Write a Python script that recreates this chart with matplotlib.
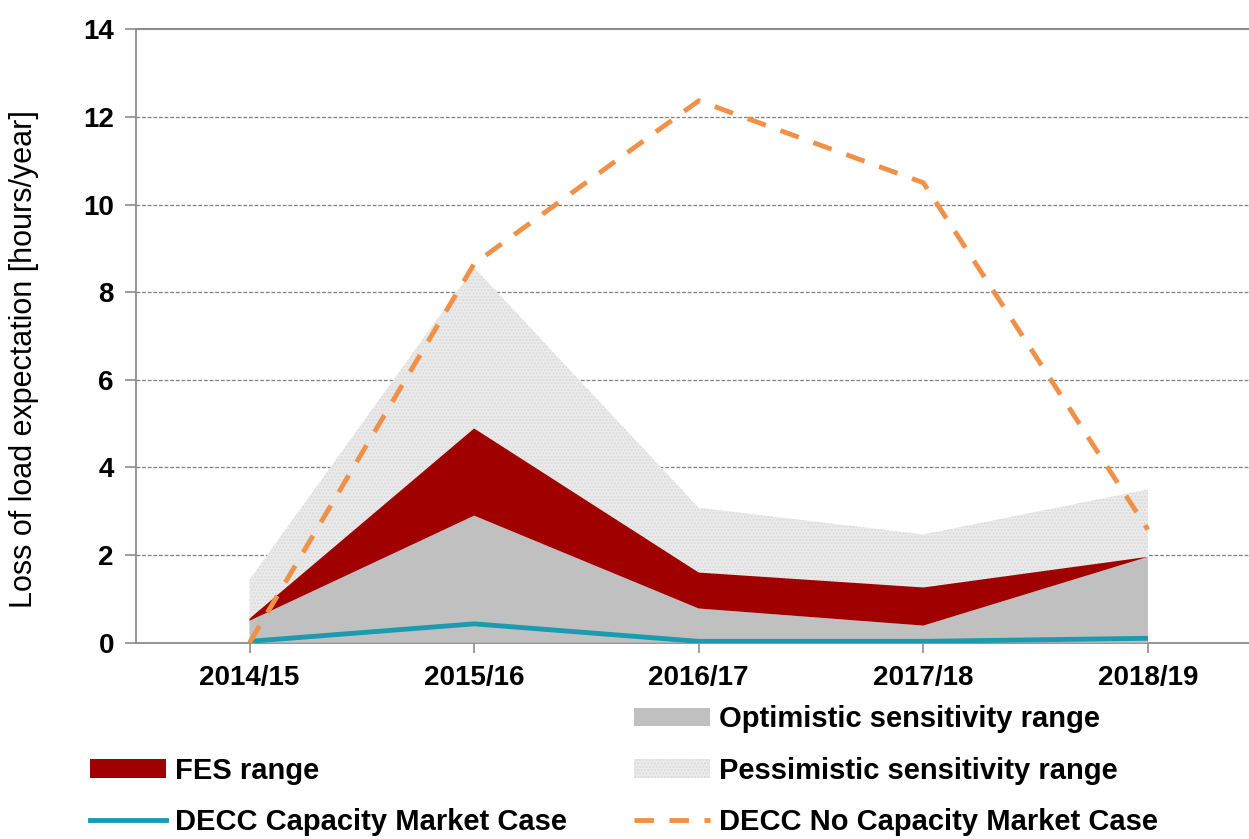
import numpy as np
import matplotlib.pyplot as plt
from matplotlib.patches import Patch
from matplotlib.lines import Line2D

years = ["2014/15", "2015/16", "2016/17", "2017/18", "2018/19"]
pessimistic_top = [1.44, 8.56, 3.08, 2.47, 3.5]
fes_top = [0.55, 4.89, 1.6, 1.26, 1.96]
fes_bottom = [0.5, 2.9, 0.78, 0.39, 1.96]
decc_cm = [0.03, 0.43, 0.03, 0.03, 0.1]
decc_no_cm = [0.0, 8.65, 12.37, 10.5, 2.58]

plt.rcParams['font.family'] = ['Liberation Sans', 'DejaVu Sans']

fig = plt.figure(figsize=(12.49, 8.39), dpi=100)
ax = fig.add_axes([0.109, 0.234, 0.891, 0.731])

x = np.arange(len(years))
zeros = np.zeros(len(years))

# background ranges
ax.fill_between(x, zeros, pessimistic_top, facecolor='#ebebeb', edgecolor='#d9d9d9',
                hatch='.....', linewidth=0, zorder=2)
ax.fill_between(x, zeros, fes_bottom, facecolor='#c0c0c0', linewidth=0, zorder=3)
ax.fill_between(x, fes_bottom, fes_top, facecolor='#a00000', linewidth=0, zorder=3)

ax.plot(x, decc_cm, color='#1b9bb0', linewidth=3.5, zorder=5, solid_capstyle='butt')
ax.plot(x, decc_no_cm, color='#f0914a', linewidth=3.5, dashes=(4, 3.2), zorder=6)

ax.set_xlim(-0.505, 4.45)
ax.set_ylim(0, 14)
ax.set_yticks(np.arange(0, 13, 2))
ax.set_xticks(x)
ax.set_xticklabels(years)

ax.grid(axis='y', color='#7f7f7f', linestyle=(0, (3, 1.5)), linewidth=0.9, zorder=1)
ax.axhline(14, color='#8c8c8c', linewidth=1.5, zorder=1, clip_on=False)
# 14 tick drawn separately so its gridline stays solid
ax.set_yticks([14], minor=True)
ax.set_yticklabels(['14'], minor=True)

for side in ['top', 'right']:
    ax.spines[side].set_visible(False)
for side in ['left', 'bottom']:
    ax.spines[side].set_color('#8c8c8c')
    ax.spines[side].set_linewidth(1.3)

ax.tick_params(axis='y', which='both', length=8, width=1.2, color='#8c8c8c', labelsize=20, pad=8)
ax.tick_params(axis='x', length=7, width=1.2, color='#8c8c8c', labelsize=20, pad=9)
for lbl in ax.get_xticklabels() + ax.get_yticklabels() + ax.get_yticklabels(minor=True):
    lbl.set_fontweight('bold')

ax.set_ylabel('Loss of load expectation [hours/year]', fontsize=22)
ax.yaxis.set_label_coords(-0.087, 0.462)

handles = [
    Patch(facecolor='none', edgecolor='none', label=' '),
    Patch(facecolor='#a00000', label='FES range'),
    Line2D([], [], color='#1b9bb0', linewidth=3.5, label='DECC Capacity Market Case'),
    Patch(facecolor='#c0c0c0', label='Optimistic sensitivity range'),
    Patch(facecolor='#ebebeb', edgecolor='#d9d9d9', hatch='.....', linewidth=0,
          label='Pessimistic sensitivity range'),
    Line2D([], [], color='#f0914a', linewidth=3.5, dashes=(4, 3.2),
           label='DECC No Capacity Market Case'),
]
leg = fig.legend(handles=handles, ncol=2, loc='lower left', bbox_to_anchor=(0.07, 0.0),
                 frameon=False, handlelength=2.6, handleheight=0.6, handletextpad=0.3,
                 columnspacing=2.3, labelspacing=0.8, borderpad=0.1, borderaxespad=0,
                 prop={'weight': 'bold', 'size': 21})

fig.savefig('out.png', dpi=100)
